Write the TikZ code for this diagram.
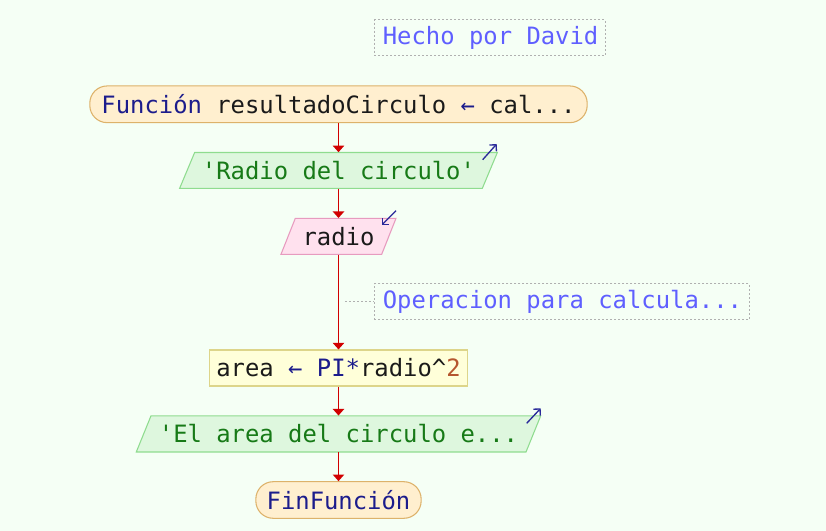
\documentclass[tikz,border=0pt]{standalone}
\usepackage{fontspec}
\newfontfamily\monof{DejaVu Sans Mono}
\usetikzlibrary{arrows.meta}
\definecolor{bgc}{HTML}{F5FFF5}
\definecolor{termfill}{HTML}{FFEFCF}
\definecolor{termdraw}{HTML}{DDB26A}
\definecolor{kw}{HTML}{1C1C8C}
\definecolor{strc}{HTML}{177A17}
\definecolor{gfill}{HTML}{DEF7DE}
\definecolor{gdraw}{HTML}{8FDC8F}
\definecolor{pfill}{HTML}{FFE1EE}
\definecolor{pdraw}{HTML}{E79BBF}
\definecolor{yfill}{HTML}{FFFFD9}
\definecolor{ydraw}{HTML}{DDD58A}
\definecolor{comc}{HTML}{5F5FFF}
\definecolor{comdraw}{HTML}{B0B0B0}
\definecolor{arrowc}{HTML}{D10000}
\definecolor{numc}{HTML}{B5562E}
\definecolor{txt}{HTML}{1A1A1A}
\definecolor{iconc}{HTML}{2A2A9A}
\begin{document}
\begin{tikzpicture}[x=0.75pt,y=-0.75pt,
  every node/.style={font=\monof\fontsize{17.9}{21}\selectfont, inner sep=0pt, text=txt},
  flow/.style={draw=arrowc, line width=1.2pt, -{Triangle[length=5pt,width=8.5pt]}},
  comment/.style={draw=comdraw, line width=0.75pt, dash pattern=on 1.5pt off 1.5pt, text=comc},
  comline/.style={draw=comdraw, line width=0.75pt, dash pattern=on 1.5pt off 1.5pt},
  term/.style={draw=termdraw, fill=termfill, line width=0.8pt, rounded corners=13pt},
  gpara/.style={draw=gdraw, fill=gfill, line width=0.8pt},
  ppara/.style={draw=pdraw, fill=pfill, line width=0.8pt},
  proc/.style={draw=ydraw, fill=yfill, line width=0.8pt},
  icon/.style={draw=iconc, line width=1pt, -{Straight Barb[length=3.5pt,width=7pt]}}]
\fill[bgc] (0,0) rectangle (826,531);
\useasboundingbox (0,0) rectangle (826,531);

% comments
\node[comment, minimum width=230.7*0.75pt, minimum height=36*0.75pt] (hecho) at (489.7,38)
  {\makebox[160.3pt][l]{Hecho por David}};
\node[comment, minimum width=375*0.75pt, minimum height=36*0.75pt] (com) at (561.8,302)
  {\makebox[268.5pt][l]{Operacion para calcula...}};

% start
\node[term, minimum width=497.4*0.75pt, minimum height=36.7*0.75pt] (start) at (338.5,104.3)
  {{\color{kw}Función} resultadoCirculo {\color{kw}←} cal...};

% output 1
\draw[gpara] (338.5,170.4) ++(-158.85,17.9) -- ++(302.7,0) -- ++(15,-35.8) -- ++(-302.7,0) -- cycle;
\node[minimum width=317.7*0.75pt, minimum height=35.8*0.75pt, text=strc] (p1) at (338.5,170.4)
  {\textquotesingle Radio del circulo\textquotesingle};

% input
\draw[ppara] (338.5,236.3) ++(-57.5,18) -- ++(100.7,0) -- ++(14.3,-36) -- ++(-100.7,0) -- cycle;
\node[minimum width=115*0.75pt, minimum height=36*0.75pt] (p2) at (338.5,236.3) {radio};

% process
\node[proc, minimum width=258.7*0.75pt, minimum height=36*0.75pt] (area) at (338.5,368)
  {area {\color{kw}← PI*}radio\textasciicircum{\color{numc}2}};

% output 2
\draw[gpara] (338.5,433.9) ++(-202.2,18.1) -- ++(389.7,0) -- ++(14.7,-36.2) -- ++(-389.7,0) -- cycle;
\node[minimum width=404.4*0.75pt, minimum height=36.2*0.75pt, text=strc] (p3) at (338.5,433.9)
  {\textquotesingle El area del circulo e...};

% end
\node[term, minimum width=165.3*0.75pt, minimum height=36.6*0.75pt, text=kw] (fin) at (338.5,500) {FinFunción};

% connectors
\draw[flow] (start.south) -- (p1.north);
\draw[flow] (p1.south) -- (p2.north);
\draw[flow] (p2.south) -- (area.north);
\draw[flow] (area.south) -- (p3.north);
\draw[flow] (p3.south) -- (fin.north);
\coordinate (cd) at (345,302);
\draw[comline] (cd) -- (com.west);

% io icons
\draw[icon] (482.7,159.7) -- (496.7,144);
\draw[icon] (396,210.7) -- (381.7,225);
\draw[icon] (526.7,423.3) -- (540.7,408.3);
\end{tikzpicture}
\end{document}
